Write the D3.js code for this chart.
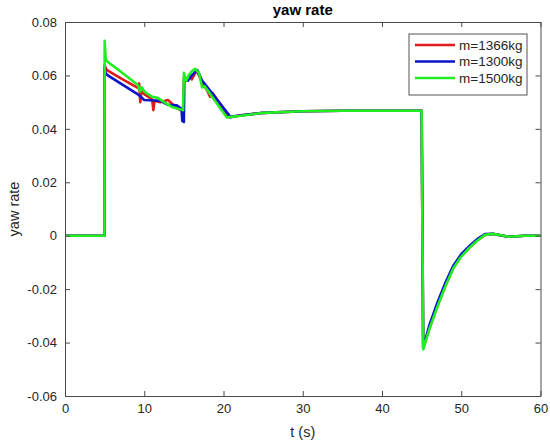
<!DOCTYPE html>
<html>
<head>
<meta charset="utf-8">
<script src="https://cdn.jsdelivr.net/npm/d3@7"></script>
<style>
  body { margin: 0; background: #fff; }
  svg { display: block; font-family: "Liberation Sans", Arial, Helvetica, sans-serif; }
</style>
</head>
<body>
<svg id="chart" width="550" height="446"></svg>
<script>
// ---- data ----
const xTicks = [0, 10, 20, 30, 40, 50, 60];
const yTicks = [-0.06, -0.04, -0.02, 0, 0.02, 0.04, 0.06, 0.08];
const seriesNames = ["m=1366kg", "m=1300kg", "m=1500kg"];
const seriesColors = ["#e01b1b", "#0a14c8", "#22ee22"];

const tRed = [0, 4.98, 5.0, 5.1, 5.3, 7, 9.2, 9.35, 9.5, 9.65, 10, 11.0, 11.15, 11.3, 12, 13, 14.1, 14.9, 15.0, 15.4, 15.7, 16.0, 16.6, 17.3, 18.0, 18.3, 18.6, 20.7, 22, 25, 30, 35, 40, 45.0, 45.2, 46, 47, 48, 49, 50, 51, 52, 53, 54, 55, 56, 57, 58, 60];
const vRed = [0, 0, 0.064, 0.063, 0.062, 0.059, 0.0553, 0.057, 0.050, 0.054, 0.053, 0.051, 0.047, 0.0505, 0.050, 0.0508, 0.0478, 0.0465, 0.059, 0.0585, 0.060, 0.0585, 0.062, 0.0575, 0.054, 0.052, 0.0535, 0.0444, 0.0450, 0.0460, 0.0466, 0.0468, 0.0468, 0.0468, -0.042, -0.0345, -0.0262, -0.0187, -0.0120, -0.0076, -0.0045, -0.0018, 0.0003, 0.0007, 0.0002, -0.0004, -0.0002, 0, 0];

const tBlue = [0, 4.98, 5.0, 5.1, 5.4, 7, 9.3, 10, 12, 13, 14.1, 14.7, 14.8, 15.0, 15.05, 15.5, 16.0, 16.7, 17.3, 17.6, 20.9, 22, 25, 30, 35, 40, 45.0, 45.2, 46, 47, 48, 49, 50, 51, 52, 53, 54, 55, 56, 57, 58, 60];
const vBlue = [0, 0, 0.063, 0.061, 0.060, 0.057, 0.0527, 0.0508, 0.0505, 0.049, 0.0488, 0.0475, 0.043, 0.0426, 0.058, 0.058, 0.060, 0.062, 0.058, 0.057, 0.0444, 0.0450, 0.0460, 0.0466, 0.0468, 0.0468, 0.0468, -0.042, -0.0333, -0.0250, -0.0176, -0.0112, -0.0069, -0.0039, -0.0013, 0.0006, 0.0007, 0.0001, -0.0004, -0.0002, 0, 0];

const tGreen = [0, 4.98, 5.0, 5.15, 5.4, 7, 9.2, 9.5, 9.7, 10, 11, 11.7, 12.5, 13.5, 14.9, 15.0, 15.3, 15.6, 16.0, 16.4, 16.9, 17.3, 17.6, 20.4, 22, 25, 30, 35, 40, 45.0, 45.2, 46, 47, 48, 49, 50, 51, 52, 53, 54, 55, 56, 57, 58, 60];
const vGreen = [0, 0, 0.073, 0.066, 0.065, 0.0615, 0.0564, 0.054, 0.0555, 0.054, 0.052, 0.0516, 0.050, 0.0482, 0.047, 0.061, 0.058, 0.060, 0.0615, 0.0625, 0.061, 0.0555, 0.056, 0.0443, 0.0448, 0.0460, 0.0466, 0.0468, 0.0468, 0.0468, -0.0425, -0.0348, -0.0265, -0.0189, -0.0122, -0.0078, -0.0046, -0.0019, 0.0003, 0.0007, 0.0002, -0.0004, -0.0002, 0, 0];

const series = [
  { name: seriesNames[0], color: seriesColors[0], t: tRed, v: vRed },
  { name: seriesNames[1], color: seriesColors[1], t: tBlue, v: vBlue },
  { name: seriesNames[2], color: seriesColors[2], t: tGreen, v: vGreen }
];

// ---- layout ----
const svg = d3.select("#chart");
const L = 65, R = 540.5, T = 22, B = 396;
const x = d3.scaleLinear().domain([0, 60]).range([L, R]);
const y = d3.scaleLinear().domain([-0.06, 0.08]).range([B, T]);
const axisColor = "#4a4a4a";
const textColor = "#262626";

svg.append("rect").attr("x", L).attr("y", T).attr("width", R - L).attr("height", B - T).attr("fill", "#fff");

// lines
const line = d3.line().x(d => x(d[0])).y(d => y(d[1]));
const plot = svg.append("g");
series.forEach(s => {
  const pts = s.t.map((t, i) => [t, s.v[i]]);
  plot.append("path")
    .datum(pts)
    .attr("d", line)
    .attr("fill", "none")
    .attr("stroke", s.color)
    .attr("stroke-width", 2.6)
    .attr("stroke-linejoin", "round");
});

// axes (inward ticks, box)
const tickLen = 5;
const fmtY = d => d === 0 ? "0" : d3.format(".2f")(d).replace("−", "-");
const xAxis = d3.axisBottom(x).tickValues(xTicks).tickSizeInner(-tickLen).tickSizeOuter(0).tickPadding(8).tickFormat(d3.format("d"));
const xAxisTop = d3.axisTop(x).tickValues(xTicks).tickSizeInner(-tickLen).tickSizeOuter(0).tickFormat("");
const yAxis = d3.axisLeft(y).tickValues(yTicks).tickSizeInner(-tickLen).tickSizeOuter(0).tickPadding(8).tickFormat(fmtY);
const yAxisRight = d3.axisRight(y).tickValues(yTicks).tickSizeInner(-tickLen).tickSizeOuter(0).tickFormat("");

function style(g) {
  g.selectAll("path.domain").attr("stroke", axisColor).attr("stroke-width", 1);
  g.selectAll(".tick line").attr("stroke", axisColor).attr("stroke-width", 1);
  g.selectAll(".tick text").attr("fill", textColor).attr("font-size", 13).attr("font-family", "Liberation Sans, Arial, sans-serif");
}
svg.append("g").attr("transform", `translate(0,${B})`).call(xAxis).call(style);
svg.append("g").attr("transform", `translate(0,${T})`).call(xAxisTop).call(style);
svg.append("g").attr("transform", `translate(${L},0)`).call(yAxis).call(style);
svg.append("g").attr("transform", `translate(${R},0)`).call(yAxisRight).call(style);

// titles
svg.append("text").attr("x", (L + R) / 2).attr("y", 15).attr("text-anchor", "middle")
  .attr("font-size", 15).attr("font-weight", "bold").attr("fill", "#000").text("yaw rate");
svg.append("text").attr("x", (L + R) / 2).attr("y", 437).attr("text-anchor", "middle")
  .attr("font-size", 14.5).attr("fill", textColor).text("t (s)");
svg.append("text").attr("transform", `translate(19,${(T + B) / 2}) rotate(-90)`).attr("text-anchor", "middle")
  .attr("font-size", 14.5).attr("fill", textColor).text("yaw rate");

// legend
const lg = svg.append("g");
lg.append("rect").attr("x", 409).attr("y", 34).attr("width", 118).attr("height", 61)
  .attr("fill", "#fff").attr("stroke", "#555").attr("stroke-width", 1);
series.forEach((s, i) => {
  const yy = 45 + i * 16.5;
  lg.append("line").attr("x1", 415).attr("x2", 455).attr("y1", yy).attr("y2", yy)
    .attr("stroke", s.color).attr("stroke-width", 2.6);
  lg.append("text").attr("x", 459).attr("y", yy + 4.5).attr("font-size", 13.5).attr("fill", textColor).text(s.name);
});
</script>
</body>
</html>
